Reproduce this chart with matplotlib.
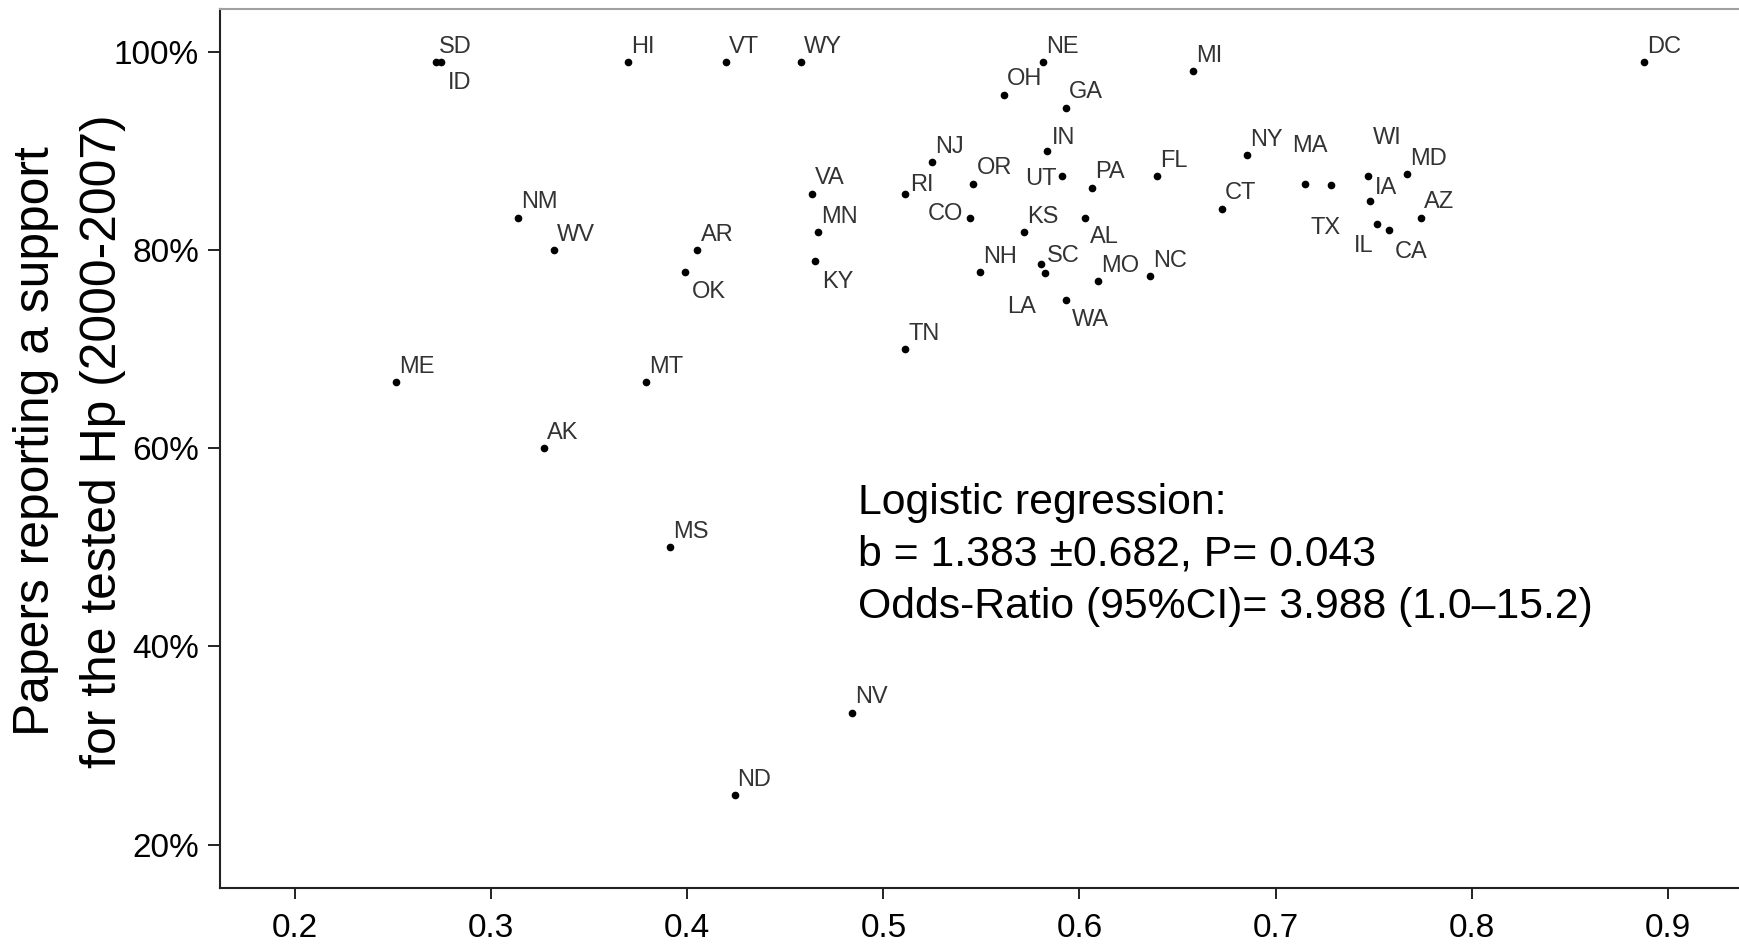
import numpy as np
import matplotlib
matplotlib.use('Agg')
import matplotlib.pyplot as plt

plt.rcParams['font.family'] = ['Liberation Sans', 'DejaVu Sans']

states = ['SD', 'ID', 'HI', 'VT', 'WY', 'VA', 'NM', 'WV', 'AR', 'OK',
          'MN', 'KY', 'ME', 'MT', 'AK', 'MS', 'NV', 'ND', 'NE', 'DC',
          'MI', 'OH', 'GA', 'IN', 'NJ', 'NY', 'FL', 'UT', 'OR', 'RI',
          'PA', 'MA', 'TX', 'WI', 'MD', 'IA', 'CT', 'AZ', 'IL', 'CA',
          'CO', 'KS', 'AL', 'NH', 'SC', 'LA', 'MO', 'NC', 'WA', 'TN']
x_vals = [0.272, 0.2743, 0.370, 0.4195, 0.4581, 0.4637, 0.3135, 0.3322, 0.4052, 0.3987,
          0.4669, 0.4652, 0.2515, 0.3791, 0.327, 0.3913, 0.4841, 0.4241, 0.5813, 0.8878,
          0.6577, 0.5613, 0.593, 0.5836, 0.525, 0.6855, 0.6394, 0.5913, 0.5459, 0.5112,
          0.6065, 0.715, 0.7281, 0.7473, 0.767, 0.7481, 0.6726, 0.774, 0.7519, 0.7579,
          0.5444, 0.5716, 0.6028, 0.5493, 0.5802, 0.5822, 0.6094, 0.6362, 0.5933, 0.5112]
y_vals = [99, 99, 99, 99, 99, 85.7, 83.3, 80.0, 80.0, 77.8,
          81.8, 78.9, 66.7, 66.7, 60.0, 50.0, 33.3, 25.0, 99, 99,
          98.1, 95.7, 94.4, 90.0, 88.9, 89.6, 87.5, 87.5, 86.7, 85.7,
          86.3, 86.7, 86.6, 87.5, 87.7, 85.0, 84.2, 83.3, 82.6, 82.0,
          83.3, 81.8, 83.3, 77.8, 78.6, 77.7, 76.9, 77.4, 75.0, 70.0]

y_ticks = [20, 40, 60, 80, 100]
y_ticklabels = ['20%', '40%', '60%', '80%', '100%']
x_ticks = [0.2, 0.3, 0.4, 0.5, 0.6, 0.7, 0.8, 0.9]

stats_text = ('Logistic regression:\n'
              'b = 1.383 \u00b10.682, P= 0.043\n'
              'Odds-Ratio (95%CI)= 3.988 (1.0\u201315.2)')
ylabel_text = 'Papers reporting a support\nfor the tested Hp (2000-2007)'

# label placement (offset points, horizontal alignment); others go up-right
default_off = (2.2, 6.8, 'left')
label_off = {
    'ID': (5, -19.5, 'left'), 'OK': (5, -19, 'left'), 'KY': (5, -19, 'left'),
    'AL': (3.6, -18.3, 'left'), 'WA': (4, -19, 'left'), 'CA': (4, -19.5, 'left'),
    'IL': (-2.9, -19.5, 'right'), 'LA': (-6.5, -29, 'right'),
    'UT': (-4.3, -6.5, 'right'), 'CO': (-5, -1.5, 'right'),
    'SC': (4.3, 1.2, 'left'), 'RI': (3.6, 2.2, 'left'),
    'IN': (3.6, 5, 'left'), 'IA': (3.6, 5, 'left'),
    'WI': (3.6, 22.8, 'left'), 'MA': (-9.4, 22.8, 'left'),
    'TX': (-14.4, -35.5, 'left'),
}

fig = plt.figure(figsize=(17.4, 9.44), dpi=100)
ax = fig.add_axes([0.1264, 0.0593, 0.8736, 0.9312])

ax.plot(x_vals, y_vals, 'o', color='black', markersize=4.5, linestyle='none')

for s, xv, yv in zip(states, x_vals, y_vals):
    dx, dy, ha = label_off.get(s, default_off)
    ax.annotate(s, (xv, yv), xytext=(dx, dy), textcoords='offset points',
                ha=ha, va='baseline', fontsize=17, color='#333333')

# multi-line baseline anchors the last line
ax.text(0.4873, 42.9, stats_text, fontsize=30.8, ha='left', va='baseline',
        linespacing=1.38, color='black')

ax.set_xlim(0.1617, 0.9368)
ax.set_ylim(15.61, 104.36)
ax.set_xticks(x_ticks)
ax.set_xticklabels([str(t) for t in x_ticks])
ax.set_yticks(y_ticks)
ax.set_yticklabels(y_ticklabels)

ax.tick_params(axis='x', length=8, width=1.4, pad=10, labelsize=24, color='#222222')
ax.tick_params(axis='y', length=9, width=1.4, pad=6, labelsize=24, color='#222222')

for side in ['left', 'bottom']:
    ax.spines[side].set_linewidth(1.5)
    ax.spines[side].set_color('#222222')
ax.spines['top'].set_color('#a0a0a0')
ax.spines['top'].set_linewidth(1.5)
ax.spines['right'].set_visible(False)

fig.text(0.040, 0.533, ylabel_text, rotation=90, ha='center', va='center',
         multialignment='center', fontsize=35.8, linespacing=1.6)

fig.savefig('out.png', dpi=100)
